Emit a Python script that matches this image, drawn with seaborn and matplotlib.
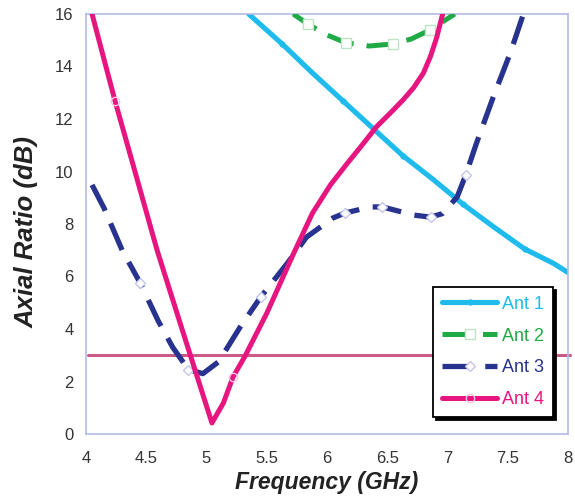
import matplotlib
matplotlib.use("Agg")
import matplotlib.pyplot as plt
import seaborn as sns

sns.set_theme(style="white")
plt.rcParams["font.family"] = ["Liberation Sans", "DejaVu Sans"]

# Axial ratio (dB) versus frequency (GHz) for four antennas
ant1_freq = [5.35, 5.63, 5.88, 6.13, 6.38, 6.63, 6.88, 7.13, 7.38, 7.64, 7.88, 8.0]
ant1_ar = [16.0, 14.85, 13.75, 12.7, 11.65, 10.6, 9.7, 8.75, 7.9, 7.05, 6.5, 6.15]
ant1_marks = [1, 3, 5, 7, 9]

ant2_freq = [5.72, 5.84, 6.0, 6.16, 6.35, 6.55, 6.7, 6.855, 7.06]
ant2_ar = [16.0, 15.62, 15.2, 14.9, 14.78, 14.86, 15.05, 15.39, 16.0]
ant2_marks = [1, 3, 5, 7]

ant3_freq = [4.05, 4.15, 4.3, 4.45, 4.6, 4.72, 4.85, 4.97, 5.1, 5.28, 5.45,
             5.67, 5.83, 6.05, 6.15, 6.36, 6.46, 6.72, 6.86, 6.96, 7.08,
             7.15, 7.24, 7.38, 7.52, 7.63]
ant3_ar = [9.49, 8.6, 7.0, 5.75, 4.3, 3.3, 2.45, 2.3, 2.75, 4.08, 5.22,
           6.5, 7.5, 8.23, 8.42, 8.65, 8.65, 8.34, 8.26, 8.4, 9.03,
           9.85, 11.07, 12.84, 14.5, 16.0]
ant3_marks = [3, 6, 10, 14, 16, 18, 21]

ant4_freq = [4.05, 4.24, 4.4, 4.59, 4.8, 5.045, 5.14, 5.22, 5.32, 5.5, 5.72,
             5.88, 6.03, 6.17, 6.29, 6.41, 6.53, 6.63, 6.72, 6.8, 6.86,
             6.91, 6.96]
ant4_ar = [16.0, 12.7, 10.1, 7.0, 3.95, 0.42, 1.18, 2.17, 2.97, 4.6, 6.85,
           8.42, 9.5, 10.32, 11.0, 11.7, 12.25, 12.72, 13.2, 13.75, 14.4,
           15.1, 16.0]
ant4_marks = [1, 7]

threshold_freq = [4.02, 8.02]
threshold_ar = [3.0, 3.0]

labels = ["Ant 1", "Ant 2", "Ant 3", "Ant 4"]
colors = ["#1fbbec", "#1faa45", "#28338f", "#e6157f"]
frame_color = "#b3bbe4"

fig, ax = plt.subplots(figsize=(5.75, 5.0), dpi=100)
fig.subplots_adjust(left=0.1496, right=0.9878, bottom=0.132, top=0.972)

# 3 dB reference level
sns.lineplot(x=threshold_freq, y=threshold_ar, ax=ax, color="#cc5a86",
             lw=2.2, estimator=None, clip_on=False, zorder=1)

dash = (0, (5.5, 2.6))
sns.lineplot(x=ant1_freq, y=ant1_ar, ax=ax, color=colors[0], lw=3.7,
             estimator=None, marker="o", markersize=4.5, markevery=ant1_marks,
             markeredgewidth=0, label=labels[0], zorder=2)
sns.lineplot(x=ant2_freq, y=ant2_ar, ax=ax, color=colors[1], lw=3.6,
             linestyle=dash, estimator=None, marker="s", markersize=7,
             markevery=ant2_marks, markerfacecolor="white",
             markeredgecolor="#bfe3c6", markeredgewidth=1.0,
             label=labels[1], zorder=3)
sns.lineplot(x=ant3_freq, y=ant3_ar, ax=ax, color=colors[2], lw=3.8,
             linestyle=dash, estimator=None, marker="D", markersize=5.5,
             markevery=ant3_marks, markerfacecolor="white",
             markeredgecolor="#c3c6e6", markeredgewidth=1.0,
             label=labels[2], zorder=4)
sns.lineplot(x=ant4_freq, y=ant4_ar, ax=ax, color=colors[3], lw=3.6,
             estimator=None, marker="o", markersize=6,
             markevery=ant4_marks, markerfacecolor="none",
             markeredgecolor="#f3c6dc", markeredgewidth=1.0,
             label=labels[3], zorder=5)

ax.set_xlim(4, 8)
ax.set_ylim(0, 16)
ax.set_xticks([4, 4.5, 5, 5.5, 6, 6.5, 7, 7.5, 8])
ax.set_xticklabels(["4", "4.5", "5", "5.5", "6", "6.5", "7", "7.5", "8"])
ax.set_yticks(range(0, 17, 2))

for spine in ax.spines.values():
    spine.set_color(frame_color)
    spine.set_linewidth(1.2)
    spine.set_visible(True)

ax.tick_params(axis="both", direction="in", length=6, width=1.0,
               color=frame_color, labelsize=12, labelcolor="#333333")
ax.tick_params(axis="x", pad=12)
ax.tick_params(axis="y", pad=9)

ax.set_xlabel("Frequency (GHz)", fontsize=16.5, fontweight="bold",
              fontstyle="italic", color="#222222", labelpad=4)
ax.set_ylabel("Axial Ratio (dB)", fontsize=18.5, fontweight="bold",
              fontstyle="italic", color="#222222")
ax.yaxis.set_label_coords(-0.099, 0.48)

leg = ax.legend(loc="lower right", bbox_to_anchor=(0.969, 0.040),
                fontsize=13, frameon=True, fancybox=False,
                shadow={"color": "black", "alpha": 1.0},
                handlelength=3.0, handletextpad=0.3, labelspacing=0.82,
                borderpad=0.5, borderaxespad=0.0)
leg.get_frame().set_edgecolor("black")
leg.get_frame().set_linewidth(1.3)
leg.get_frame().set_facecolor("white")
leg.set_zorder(10)
for text, c in zip(leg.get_texts(), colors):
    text.set_color(c)

fig.savefig("out.png", dpi=100, facecolor="white")
